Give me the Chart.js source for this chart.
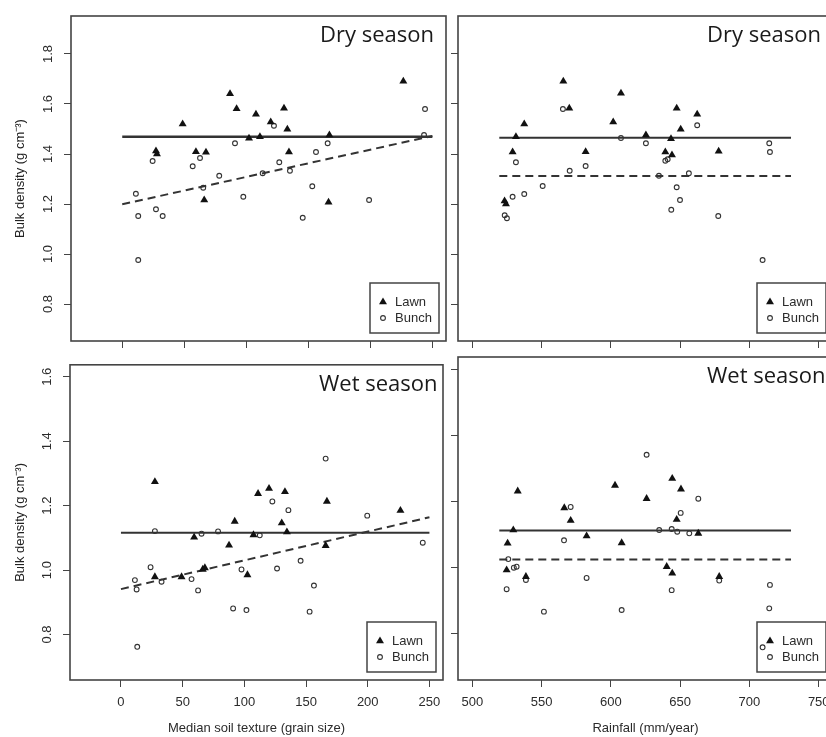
<!DOCTYPE html>
<html>
<head>
<meta charset="utf-8">
<script src="https://cdn.jsdelivr.net/npm/chart.js@4.4.1/dist/chart.umd.min.js"></script>
<style>
  html, body { margin: 0; padding: 0; background: #fff; overflow: hidden; width: 826px; height: 737px; }
  canvas { position: absolute; }
</style>
</head>
<body>
<canvas id="dryTexture" width="460" height="360" style="left:0;top:0"></canvas>
<canvas id="dryRain" width="400" height="360" style="left:440px;top:0"></canvas>
<canvas id="wetTexture" width="460" height="387" style="left:0;top:350px"></canvas>
<canvas id="wetRain" width="400" height="387" style="left:440px;top:350px"></canvas>
<script>
// tick values
const textureTicks = [0, 50, 100, 150, 200, 250];
const rainTicks = [500, 550, 600, 650, 700, 750];
const dryDensityTicks = [0.8, 1.0, 1.2, 1.4, 1.6, 1.8];
const wetDensityTicks = [0.8, 1.0, 1.2, 1.4, 1.6];

// dry season, bulk density vs median soil texture  [x, y]
const dryTextureLawn = [[27.2,1.412],[28,1.400],[48.7,1.520],[59.4,1.409],[67.5,1.407],[66.1,1.216],[86.9,1.641],[92.2,1.581],[102.2,1.463],[107.8,1.559],[111,1.469],[119.7,1.528],[130.4,1.583],[133.1,1.499],[134.4,1.408],[166.3,1.207],[167,1.476],[226.6,1.691]];
const dryTextureBunch = [[11,1.241],[12.9,1.152],[12.9,0.976],[24.5,1.372],[27.2,1.179],[32.6,1.152],[56.8,1.351],[62.7,1.384],[65.3,1.265],[78.2,1.313],[90.9,1.443],[97.6,1.229],[113.2,1.323],[122.3,1.513],[126.6,1.367],[135.2,1.333],[145.5,1.145],[153.2,1.271],[156.2,1.408],[165.6,1.443],[199,1.216],[244.1,1.58],[243.3,1.476]];
const dryTextureLawnFit = [[0,1.469],[250,1.469]];
const dryTextureBunchFit = [[0,1.199],[250,1.472]];

// dry season, bulk density vs rainfall
const dryRainLawn = [[523.3,1.212],[524.3,1.200],[529.1,1.408],[531.5,1.469],[537.5,1.520],[565.7,1.691],[570,1.583],[581.8,1.409],[601.7,1.528],[607.3,1.643],[625.3,1.476],[639.3,1.408],[643.4,1.461],[644.1,1.396],[647.5,1.583],[650.4,1.499],[662.3,1.559],[677.8,1.411]];
const dryRainBunch = [[523.4,1.155],[525,1.143],[529.1,1.229],[531.5,1.367],[537.5,1.240],[550.8,1.272],[565.4,1.580],[570.3,1.333],[581.8,1.352],[607.3,1.464],[625.3,1.443],[634.7,1.313],[639.3,1.373],[641,1.379],[643.6,1.177],[647.5,1.267],[649.9,1.216],[656.3,1.323],[662.3,1.515],[677.5,1.152],[709.5,0.976],[714.3,1.443],[714.8,1.408]];
const dryRainLawnFit = [[519.5,1.465],[730,1.465]];
const dryRainBunchFit = [[519.5,1.312],[730,1.312]];

// wet season, bulk density vs median soil texture
const wetTextureLawn = [[27.5,1.274],[27.5,0.979],[49.1,0.979],[59.3,1.102],[66.3,1.002],[68,1.007],[87.6,1.077],[92.2,1.151],[102.5,0.985],[107.4,1.109],[111.1,1.237],[120,1.253],[130.3,1.146],[132.9,1.243],[134.5,1.118],[165.9,1.076],[166.9,1.213],[226.5,1.185]];
const wetTextureBunch = [[11.3,0.969],[12.7,0.940],[13.2,0.762],[24,1.009],[27.5,1.121],[32.9,0.964],[57.2,0.972],[62.5,0.937],[65.3,1.113],[78.7,1.120],[90.9,0.881],[97.7,1.002],[101.7,0.876],[112.5,1.108],[122.7,1.213],[126.5,1.005],[135.7,1.186],[145.6,1.029],[152.9,0.871],[156.4,0.952],[165.9,1.346],[199.6,1.169],[244.6,1.085]];
const wetTextureLawnFit = [[0,1.116],[250,1.116]];
const wetTextureBunchFit = [[0,0.941],[250,1.164]];

// wet season, bulk density vs rainfall
const wetRainLawn = [[525.5,1.073],[524.8,0.992],[529.6,1.113],[532.8,1.231],[538.7,0.972],[566.4,1.180],[571,1.142],[582.5,1.095],[603,1.248],[607.8,1.074],[625.8,1.208],[640.3,1.002],[644.3,1.269],[644.3,0.982],[647.5,1.145],[650.6,1.237],[663.1,1.103],[678.2,0.972]];
const wetRainBunch = [[526,1.025],[524.8,0.934],[530,0.999],[532,1.002],[538.7,0.962],[551.7,0.866],[566.2,1.082],[571,1.183],[582.5,0.968],[607.8,0.871],[625.8,1.341],[634.9,1.113],[643.9,1.116],[643.9,0.931],[647.9,1.108],[650.4,1.165],[656.6,1.103],[663.1,1.208],[678.2,0.960],[714.8,0.947],[714.3,0.876],[709.5,0.758]];
const wetRainLawnFit = [[519.5,1.112],[730,1.112]];
const wetRainBunchFit = [[519.5,1.024],[730,1.024]];

const FONT = 'Liberation Sans, Arial, sans-serif';
const INK = '#2b2b2b';

const toXY = pairs => pairs.map(p => ({ x: p[0], y: p[1] }));

// box around the plot region
const frame = {
  id: 'frame',
  afterDraw(chart) {
    const { ctx, chartArea: a } = chart;
    ctx.save();
    ctx.strokeStyle = '#444';
    ctx.lineWidth = 1.6;
    ctx.strokeRect(a.left, a.top, a.right - a.left, a.bottom - a.top);
    ctx.restore();
  }
};

// "Dry season" / "Wet season" label and the boxed legend in the corner
const annotations = {
  id: 'annotations',
  afterDraw(chart, args, opts) {
    const { ctx, chartArea: a } = chart;
    ctx.save();
    ctx.fillStyle = '#1a1a1a';
    ctx.font = '22px "Open Sans", sans-serif';
    ctx.textAlign = 'left';
    ctx.textBaseline = 'alphabetic';
    ctx.fillText(opts.label, a.left + 249, a.top + 26);

    const w = 69, h = 50;
    const x0 = a.right - 7 - w, y0 = a.bottom - 8 - h;
    ctx.strokeStyle = '#444';
    ctx.lineWidth = 1.5;
    ctx.strokeRect(x0, y0, w, h);
    ctx.font = '13px ' + FONT;
    ctx.textBaseline = 'middle';
    chart.data.datasets.filter(d => d.inLegend).forEach((d, i) => {
      const y = y0 + 19 + i * 16;
      ctx.fillStyle = d.backgroundColor;
      ctx.strokeStyle = d.borderColor;
      ctx.lineWidth = d.borderWidth;
      Chart.helpers.drawPoint(ctx, { pointStyle: d.pointStyle, radius: d.pointRadius, borderWidth: d.borderWidth, rotation: 0 }, x0 + 13, y);
      ctx.fillStyle = INK;
      ctx.fillText(d.label, x0 + 25, y);
    });
    ctx.restore();
  }
};

function panel(id, cfg) {
  return new Chart(document.getElementById(id), {
    type: 'scatter',
    data: {
      datasets: [
        { label: 'Lawn', data: toXY(cfg.lawn), inLegend: true, pointStyle: 'triangle', pointRadius: 4.6,
          backgroundColor: '#111', borderColor: '#111', borderWidth: 0 },
        { label: 'Bunch', data: toXY(cfg.bunch), inLegend: true, pointStyle: 'circle', pointRadius: 2.4,
          backgroundColor: 'rgba(0,0,0,0)', borderColor: '#333', borderWidth: 1.1 },
        { label: 'Lawn line', data: toXY(cfg.lawnFit), showLine: true, pointRadius: 0,
          borderColor: '#333', borderWidth: cfg.solidWidth },
        { label: 'Bunch line', data: toXY(cfg.bunchFit), showLine: true, pointRadius: 0,
          borderColor: '#333', borderWidth: 2, borderDash: [8, 5] }
      ]
    },
    options: {
      responsive: false,
      animation: false,
      events: [],
      layout: { padding: cfg.padding },
      plugins: {
        legend: { display: false },
        tooltip: { enabled: false },
        annotations: { label: cfg.label }
      },
      scales: {
        x: {
          type: 'linear', position: 'bottom', min: cfg.xMin, max: cfg.xMax,
          afterBuildTicks: s => { s.ticks = cfg.xTicks.map(v => ({ value: v })); },
          afterFit: s => { s.height = cfg.xHeight; },
          grid: { drawOnChartArea: false, drawTicks: true, tickLength: 7, color: '#444', lineWidth: 1 },
          border: { display: false },
          ticks: { display: cfg.xLabels, padding: 8, color: INK, font: { family: FONT, size: 13 } },
          title: { display: !!cfg.xTitle, text: cfg.xTitle || '', color: INK, padding: { top: 0, bottom: 1 },
                   font: { family: FONT, size: 13 } }
        },
        y: {
          type: 'linear', position: 'left', min: cfg.yMin, max: cfg.yMax,
          afterBuildTicks: s => { s.ticks = cfg.yTicks.map(v => ({ value: v })); },
          afterFit: s => { s.width = cfg.yWidth; },
          grid: { drawOnChartArea: false, drawTicks: true, tickLength: 7, color: '#444', lineWidth: 1 },
          border: { display: false },
          ticks: { display: cfg.yLabels, minRotation: 90, maxRotation: 90, crossAlign: 'center', padding: 7,
                   color: INK, font: { family: FONT, size: 13 }, callback: v => v.toFixed(1) },
          title: { display: cfg.yLabels, text: 'Bulk density (g cm\u207B\u00B3)', color: '#222',
                   padding: { top: 13, bottom: 0 }, font: { family: FONT, size: 13 } }
        }
      }
    },
    plugins: [frame, annotations]
  });
}

panel('dryTexture', {
  lawn: dryTextureLawn, bunch: dryTextureBunch, lawnFit: dryTextureLawnFit, bunchFit: dryTextureBunchFit,
  label: 'Dry season', solidWidth: 2.6,
  xMin: -41.3, xMax: 261, xTicks: textureTicks, xLabels: false, xHeight: 19,
  yMin: 0.652, yMax: 1.952, yTicks: dryDensityTicks, yLabels: true, yWidth: 71,
  padding: { top: 16, right: 14, bottom: 0, left: 0 }
});

panel('dryRain', {
  lawn: dryRainLawn, bunch: dryRainBunch, lawnFit: dryRainLawnFit, bunchFit: dryRainBunchFit,
  label: 'Dry season', solidWidth: 2,
  xMin: 489.7, xMax: 760.3, xTicks: rainTicks, xLabels: false, xHeight: 19,
  yMin: 0.652, yMax: 1.952, yTicks: dryDensityTicks, yLabels: false, yWidth: 18,
  padding: { top: 16, right: 7, bottom: 0, left: 0 }
});

panel('wetTexture', {
  lawn: wetTextureLawn, bunch: wetTextureBunch, lawnFit: wetTextureLawnFit, bunchFit: wetTextureBunchFit,
  label: 'Wet season', solidWidth: 2,
  xMin: -41.3, xMax: 261, xTicks: textureTicks, xLabels: true, xHeight: 57,
  xTitle: 'Median soil texture (grain size)',
  yMin: 0.659, yMax: 1.637, yTicks: wetDensityTicks, yLabels: true, yWidth: 70,
  padding: { top: 6, right: 17, bottom: 0, left: 0 }
});

panel('wetRain', {
  lawn: wetRainLawn, bunch: wetRainBunch, lawnFit: wetRainLawnFit, bunchFit: wetRainBunchFit,
  label: 'Wet season', solidWidth: 2,
  xMin: 489.7, xMax: 760.3, xTicks: rainTicks, xLabels: true, xHeight: 57,
  xTitle: 'Rainfall (mm/year)',
  yMin: 0.659, yMax: 1.637, yTicks: wetDensityTicks, yLabels: false, yWidth: 18,
  padding: { top: 7, right: 7, bottom: 0, left: 0 }
});
</script>
</body>
</html>
